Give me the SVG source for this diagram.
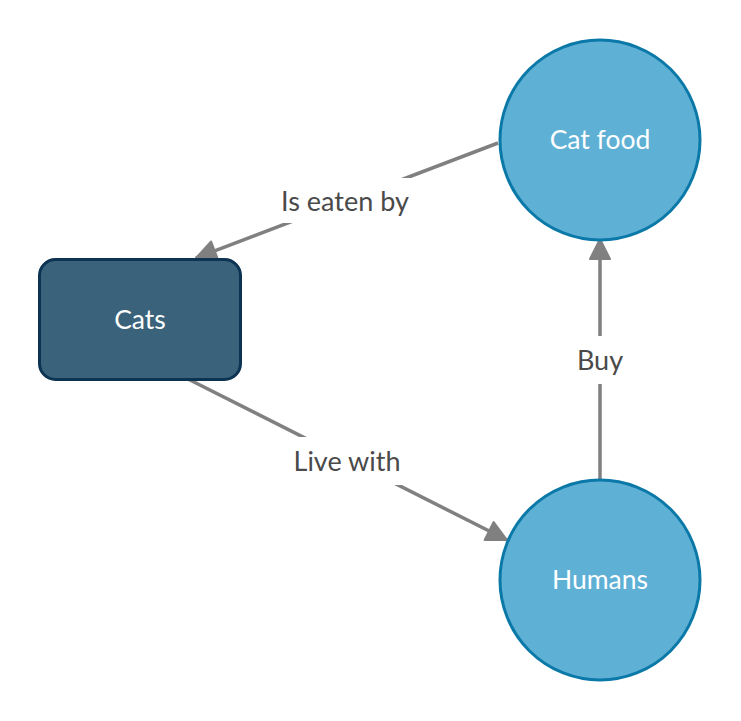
<svg xmlns="http://www.w3.org/2000/svg" width="741" height="721" viewBox="0 0 741 721">
<style>
.edge{stroke:#808080;stroke-width:3.5;fill:none}
.lbg{fill:#ffffff}
.lbl{font-family:Lato,"Liberation Sans",sans-serif;font-size:27px;fill:#4a4a4a;text-anchor:middle;dominant-baseline:central}
.ntx{font-family:Lato,"Liberation Sans",sans-serif;font-size:26.5px;fill:#ffffff;text-anchor:middle;dominant-baseline:central}
.circ{fill:#5eb0d5;stroke:#0b79a8;stroke-width:3}
.rect{fill:#3a627a;stroke:#0c3352;stroke-width:3}
</style>
<defs>
<marker id="arr" markerUnits="userSpaceOnUse" markerWidth="24" markerHeight="24" viewBox="0 0 24 24" refX="22" refY="12" orient="auto">
<path d="M2,2 L22,12 L2,22 Z" fill="#808080" stroke="#808080" stroke-width="2" stroke-linejoin="round"/>
</marker>
</defs>
<g id="connectors">
<g id="edge-eaten">
<line class="edge" x1="498" y1="143" x2="196" y2="258" marker-end="url(#arr)"/>
<rect class="lbg" x="272" y="178" width="146" height="45"/>
<text class="lbl" x="345" y="200">Is eaten by</text>
</g>
<g id="edge-live">
<line class="edge" x1="188" y1="379" x2="507" y2="540" marker-end="url(#arr)"/>
<rect class="lbg" x="282" y="437" width="130" height="48"/>
<text class="lbl" x="347" y="460">Live with</text>
</g>
<g id="edge-buy">
<line class="edge" x1="600" y1="479" x2="600" y2="239" marker-end="url(#arr)"/>
<rect class="lbg" x="570" y="336" width="60" height="48"/>
<text class="lbl" x="600" y="359">Buy</text>
</g>
</g>
<g id="node-cats">
<rect class="rect" x="39.5" y="259.5" width="201" height="120" rx="16"/>
<text class="ntx" x="140" y="319">Cats</text>
</g>
<g id="node-catfood">
<circle class="circ" cx="600" cy="140" r="100"/>
<text class="ntx" x="600" y="139">Cat food</text>
</g>
<g id="node-humans">
<circle class="circ" cx="600" cy="580" r="100"/>
<text class="ntx" x="600" y="579">Humans</text>
</g>
</svg>
